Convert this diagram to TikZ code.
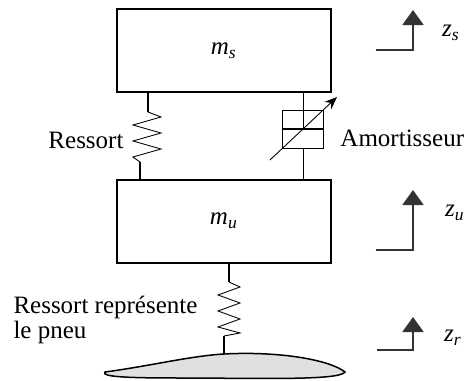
\documentclass[tikz,border=0pt]{standalone}
\usepackage{fontspec}
\setmainfont{Liberation Serif}
\usetikzlibrary{arrows.meta}

\tikzset{
  massbox/.style={draw, line width=0.8pt, minimum width=85.6pt, minimum height=33.2pt, inner sep=0pt},
  link/.style={line width=0.8pt},
  coil/.style={line width=0.35pt, line join=miter},
  axis/.style={line width=0.8pt, draw=black!80, -{Triangle[width=8.4pt,length=6pt]}},
  lbl/.style={inner sep=0pt}
}

\begin{document}
\begin{tikzpicture}[x=0.4pt, y=-0.4pt]
        \useasboundingbox (0,0) rectangle (469,381);

        % Masses
        \node[massbox] (ms) at (224,50.5) {\textit{m\textsubscript{s}}};
        \node[massbox] (mu) at (224,221) {\textit{m\textsubscript{u}}};

        % Suspension spring
        \coordinate (sa) at (148,92);
        \coordinate (sb) at (140,179);
        \draw[link] (sa) -- (148,112);
        \draw[coil] (148,112) -- (161,117) -- (133,125) -- (161,133) -- (133,141)
                    -- (161,149) -- (133,157) -- (140,162);
        \draw[link] (140,162) -- (sb);
        \node[lbl, anchor=east] (ressort) at (124,140) {Ressort};

        % Damper
        \coordinate (da) at (303,92);
        \coordinate (db) at (303,179);
        \draw[coil] (da) -- (303,129);
        \draw[coil] (303,148) -- (db);
        \draw[coil] (282,110) rectangle (323,148);
        \draw[line width=1.1pt] (282,129) -- (323,129);
        \coordinate (ta) at (270,160);
        \coordinate (tb) at (337,97);
        \draw[coil, -{Stealth[length=5pt,width=4pt]}] (ta) -- (tb);
        \node[lbl, anchor=west] (amort) at (340,138) {Amortisseur};

        % Tyre spring
        \coordinate (pa) at (229,263);
        \coordinate (pb) at (224,354);
        \draw[link] (pa) -- (229,282);
        \draw[coil] (229,282) -- (240,287) -- (218,295) -- (240,303) -- (218,311)
                    -- (240,319) -- (218,327) -- (240,333) -- (224,336);
        \draw[link] (224,336) -- (pb);
        \node[lbl, anchor=west, align=left] (pneu) at (13,320)
             {Ressort représente\\[-2pt]le pneu};

        % Road
        \draw[line width=0.6pt, fill=black!12]
             (105,372) .. controls (150,366) and (190,356) .. (pb)
             .. controls (280,351) and (330,360) .. (345,372)
             .. controls (340,381) and (250,378) .. (180,378)
             .. controls (130,378) and (100,377) .. cycle;

        % Displacements
        \coordinate (zs0) at (376,50);
        \coordinate (zu0) at (376,250);
        \coordinate (zr0) at (377,350);
        \draw[axis] (zs0) -- (413,50) -- (413,10);
        \draw[axis] (zu0) -- (413,250) -- (413,190);
        \draw[axis] (zr0) -- (413,350) -- (413,317);
        \node[lbl] (zs) at (451,33) {\textit{z\textsubscript{s}}};
        \node[lbl] (zu) at (455,213) {\textit{z\textsubscript{u}}};
        \node[lbl] (zr) at (453,338) {\textit{z\textsubscript{r}}};
    \end{tikzpicture}
\end{document}
